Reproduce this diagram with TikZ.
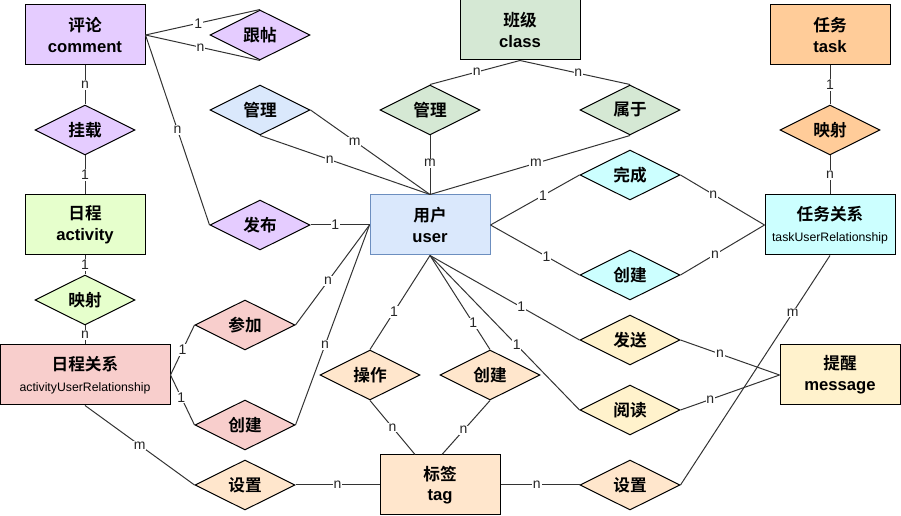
\documentclass[tikz,border=0pt]{standalone}
\usepackage{fontspec}
\setmainfont{Liberation Sans}
\newfontfamily\cjk{Noto Sans CJK SC}[BoldFont={Noto Sans CJK SC Bold}]
\usetikzlibrary{shapes.geometric}
\definecolor{cPurple}{HTML}{E5CCFF}
\definecolor{cGreen}{HTML}{D5E8D4}
\definecolor{cOrange}{HTML}{FFCC99}
\definecolor{cLime}{HTML}{E6FFCC}
\definecolor{cBlue}{HTML}{DAE8FC}
\definecolor{cBlueLine}{HTML}{6C8EBF}
\definecolor{cCyan}{HTML}{CCFFFF}
\definecolor{cPink}{HTML}{F8CECC}
\definecolor{cYellow}{HTML}{FFF2CC}
\definecolor{cPeach}{HTML}{FFE6CC}

\begin{document}
\begin{tikzpicture}[
    x=0.75pt, y=-0.75pt,
    ent/.style={draw, line width=0.75pt, minimum width=90pt, minimum height=45pt, inner sep=0pt, align=center, font=\bfseries\fontsize{12.5}{15.5}\selectfont},
    rel/.style={draw, diamond, line width=0.75pt, minimum width=75pt, minimum height=37.5pt, inner sep=0pt, font=\cjk\bfseries\fontsize{12.5}{15}\selectfont},
    lnk/.style={draw=black!80, line width=0.75pt},
    card/.style={fill=white, inner sep=0.6pt, text=black!85, font=\fontsize{10.5}{11}\selectfont}
]
\useasboundingbox (0,0) rectangle (901,516);

\node[ent, fill=cPurple] (comment) at (85,35) {{\cjk 评论}\\comment};
\node[ent, fill=cGreen] (class) at (520,30) {{\cjk 班级}\\class};
\node[ent, fill=cOrange] (task) at (830,35) {{\cjk 任务}\\task};
\node[ent, fill=cLime] (activity) at (85,225) {{\cjk 日程}\\activity};
\node[ent, fill=cBlue, draw=cBlueLine] (user) at (430,225) {{\cjk 用户}\\user};
\node[ent, fill=cCyan, minimum width=97.5pt] (taskRel) at (830,225) {{\cjk 任务关系}\\{\mdseries\fontsize{9.2}{15.5}\selectfont taskUserRelationship}};
\node[ent, fill=cPink, minimum width=127.5pt] (actRel) at (85,375) {{\cjk 日程关系}\\{\mdseries\fontsize{9.2}{15.5}\selectfont activityUserRelationship}};
\node[ent, fill=cYellow] (message) at (840,375) {{\cjk 提醒}\\message};
\node[ent, fill=cPeach] (tag) at (440,485) {{\cjk 标签}\\tag};

\node[rel, fill=cPurple] (follow) at (260,35) {跟帖};
\node[rel, fill=cPurple] (mount) at (85,130) {挂载};
\node[rel, fill=cBlue] (manageB) at (260,110) {管理};
\node[rel, fill=cGreen] (manageG) at (430,110) {管理};
\node[rel, fill=cGreen] (belong) at (630,110) {属于};
\node[rel, fill=cOrange] (mapTask) at (830,130) {映射};
\node[rel, fill=cPurple] (publish) at (260,225) {发布};
\node[rel, fill=cCyan] (finish) at (630,175) {完成};
\node[rel, fill=cCyan] (createTask) at (630,275) {创建};
\node[rel, fill=cLime] (mapAct) at (85,300) {映射};
\node[rel, fill=cPink] (join) at (245,325) {参加};
\node[rel, fill=cPink] (createAct) at (245,425) {创建};
\node[rel, fill=cPeach] (operate) at (370,375) {操作};
\node[rel, fill=cPeach] (createTag) at (490,375) {创建};
\node[rel, fill=cYellow] (send) at (630,340) {发送};
\node[rel, fill=cYellow] (read) at (630,410) {阅读};
\node[rel, fill=cPeach] (setL) at (245,485) {设置};
\node[rel, fill=cPeach] (setR) at (630,485) {设置};

\draw[lnk] (comment.east) -- node[card, pos=.46] {1} (follow.north);
\draw[lnk] (comment.east) -- node[card, pos=.48] {n} (follow.south);
\draw[lnk] (comment.south) -- node[card] {n} (mount.north);
\draw[lnk] (mount.south) -- node[card] {1} (activity.north);
\draw[lnk] (comment.east) -- node[card, pos=.5] {n} (publish.west);
\draw[lnk] (publish.east) -- node[card, pos=.42] {1} (user.west);
\draw[lnk] (manageB.east) -- node[card, pos=.37] {m} (user.north);
\draw[lnk] (manageB.south) -- node[card, pos=.41] {n} (user.north);
\draw[lnk] (manageG.south) -- node[card, pos=.47] {m} (user.north);
\draw[lnk] (class.south) -- node[card, pos=.48] {n} (manageG.north);
\draw[lnk] (class.south) -- node[card, pos=.53] {n} (belong.north);
\draw[lnk] (belong.south) -- node[card, pos=.47] {m} (user.north);
\draw[lnk] (task.south) -- node[card] {1} (mapTask.north);
\draw[lnk] (mapTask.south) -- node[card] {n} (taskRel.north);
\draw[lnk] (user.east) -- node[card, pos=.59] {1} (finish.west);
\draw[lnk] (finish.east) -- node[card, pos=.39] {n} (taskRel.west);
\draw[lnk] (user.east) -- node[card, pos=.63] {1} (createTask.west);
\draw[lnk] (createTask.east) -- node[card, pos=.41] {n} (taskRel.west);
\draw[lnk] (activity.south) -- node[card] {1} (mapAct.north);
\draw[lnk] (mapAct.south) -- node[card] {n} (actRel.north);
\draw[lnk] (actRel.east) -- node[card, pos=.5] {1} (join.west);
\draw[lnk] (actRel.east) -- node[card, pos=.45] {1} (createAct.west);
\draw[lnk] (join.east) -- node[card, pos=.44] {n} (user.west);
\draw[lnk] (createAct.east) -- node[card, pos=.4] {n} (user.west);
\draw[lnk] (user.south) -- node[card, pos=.6] {1} (operate.north);
\draw[lnk] (user.south) -- node[card, pos=.72] {1} (createTag.north);
\draw[lnk] (user.south) -- node[card, pos=.61] {1} (send.west);
\draw[lnk] (user.south) -- node[card, pos=.58] {1} (read.west);
\draw[lnk] (operate.south) -- node[card, pos=.5] {n} ([xshift=-18.75pt]tag.north);
\draw[lnk] (createTag.south) -- node[card, pos=.55] {n} ([xshift=1.5pt]tag.north);
\draw[lnk] (actRel.south) -- node[card, pos=.5] {m} (setL.west);
\draw[lnk] (setL.east) -- node[card, pos=.5] {n} (tag.west);
\draw[lnk] (tag.east) -- node[card, pos=.46] {n} (setR.west);
\draw[lnk] (setR.east) -- node[card, pos=.75] {m} (taskRel.south);
\draw[lnk] (send.east) -- node[card, pos=.4] {n} (message.west);
\draw[lnk] (read.east) -- node[card, pos=.3] {n} (message.west);
\end{tikzpicture}
\end{document}
